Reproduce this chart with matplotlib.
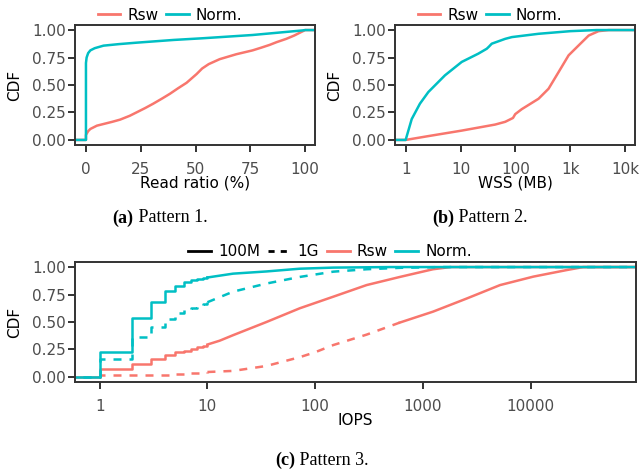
import numpy as np
import matplotlib
matplotlib.use("Agg")
from matplotlib import pyplot as plt
from matplotlib.lines import Line2D

RED = "#F8766D"
CYAN = "#00BFC4"
DARK = "#333333"
GREY = "#4D4D4D"

# (a) read ratio CDF
a_rsw_x = [-5, 0, 0, 1, 2, 5, 8, 12, 15.6, 20, 23, 27, 30.7, 35, 38.3, 42, 45.9, 50.5, 53, 56, 61,
           68.6, 76, 80, 83.8, 87, 91.4, 95, 99, 100, 105]
a_rsw_y = [0, 0, 0.045, 0.08, 0.10, 0.13, 0.145, 0.165, 0.185, 0.22, 0.25, 0.29, 0.33, 0.38, 0.42, 0.47, 0.52,
           0.60, 0.65, 0.69, 0.735, 0.78, 0.815, 0.84, 0.865, 0.89, 0.92, 0.95, 0.99, 1.0, 1.0]
a_norm_x = [-5, 0, 0, 0.3, 1, 2, 4, 8, 15, 23, 40, 53, 76, 87, 99, 100, 105]
a_norm_y = [0, 0, 0.70, 0.75, 0.79, 0.815, 0.835, 0.858, 0.872, 0.885, 0.91, 0.925, 0.955, 0.975, 0.997, 1.0, 1.0]

# (b) WSS CDF (MB)
b_rsw_x = [0.6, 1, 2.59, 10.5, 42.6, 65, 90, 99, 130, 263, 400, 610, 927, 1410, 2150, 3250, 5000, 15000]
b_rsw_y = [0, 0, 0.035, 0.085, 0.14, 0.165, 0.20, 0.235, 0.28, 0.375, 0.466, 0.618, 0.77, 0.86, 0.95, 0.99, 1.0, 1.0]
b_norm_x = [0.6, 1, 1.29, 1.82, 2.59, 5.2, 10.5, 21, 30, 33, 37, 65, 86, 263, 1000, 3000, 15000]
b_norm_y = [0, 0, 0.19, 0.33, 0.436, 0.588, 0.71, 0.785, 0.83, 0.85, 0.876, 0.92, 0.936, 0.966, 0.99, 1.0, 1.0]

# (c) IOPS CDF, integer steps up to 10 then dense
c_step_x = [0.5, 1, 2, 3, 4, 5, 6, 7, 8, 9, 10]
c_rsw_100m_step = [0, 0.076, 0.12, 0.16, 0.197, 0.225, 0.24, 0.255, 0.268, 0.28, 0.295]
c_norm_100m_step = [0, 0.227, 0.54, 0.68, 0.78, 0.83, 0.86, 0.88, 0.89, 0.90, 0.905]
c_rsw_1g_step = [0, 0.015, 0.018, 0.02, 0.022, 0.025, 0.028, 0.032, 0.036, 0.04, 0.045]
c_norm_1g_step = [0, 0.167, 0.364, 0.45, 0.53, 0.58, 0.61, 0.63, 0.65, 0.665, 0.68]

c_rsw_100m_x = [10, 13, 17.3, 35.3, 72, 147, 300, 611, 1240, 1800, 95000]
c_rsw_100m_y = [0.295, 0.33, 0.38, 0.50, 0.625, 0.73, 0.836, 0.91, 0.98, 1.0, 1.0]
c_norm_100m_x = [10, 17.3, 35.3, 72, 147, 500, 95000]
c_norm_100m_y = [0.905, 0.94, 0.96, 0.985, 0.995, 1.0, 1.0]
c_rsw_1g_x = [10, 17.3, 35.3, 72, 100, 147, 300, 611, 1240, 2570, 5200, 10600, 21700, 30800, 95000]
c_rsw_1g_y = [0.045, 0.055, 0.10, 0.18, 0.225, 0.29, 0.385, 0.495, 0.594, 0.715, 0.836, 0.913, 0.973, 1.0, 1.0]
c_norm_1g_x = [10, 17.3, 35.3, 72, 147, 300, 611, 1500, 95000]
c_norm_1g_y = [0.68, 0.776, 0.85, 0.91, 0.958, 0.98, 0.993, 1.0, 1.0]
solid_from = 611  # dense 1G tail renders as a solid line

cdf_ticks = [0, 0.25, 0.5, 0.75, 1.0]
cdf_labels = ["0.00", "0.25", "0.50", "0.75", "1.00"]

plt.rcParams['font.family'] = ['DejaVu Sans']
W, H = 639, 469
fig = plt.figure(figsize=(W / 100, H / 100), dpi=100)


def box(l, t, r, b):
    return [l / W, 1 - b / H, (r - l) / W, (b - t) / H]


def style(ax, wpx):
    for s in ax.spines.values():
        s.set_color(DARK)
        s.set_linewidth(1.4)
    ax.tick_params(direction='out', length=5, width=1.4, color=DARK,
                   labelcolor=GREY, labelsize=11)
    ax.tick_params(axis='x', pad=7)
    ax.tick_params(axis='y', pad=1.5)
    ax.tick_params(which='minor', length=0)
    ax.set_ylim(-0.046, 1.046)
    ax.set_yticks(cdf_ticks)
    ax.set_yticklabels(cdf_labels)
    ax.set_ylabel('CDF', fontsize=11)
    ax.yaxis.set_label_coords(-53 / wpx, 0.5)
    ax.xaxis.set_label_coords(0.5, -0.255)


lw = 1.8

ax_a = fig.add_axes(box(75, 25, 315, 145))
ax_a.plot(a_rsw_x, a_rsw_y, color=RED, lw=lw)
ax_a.plot(a_norm_x, a_norm_y, color=CYAN, lw=lw)
ax_a.set_xlim(-5, 104.5)
ax_a.set_xticks([0, 25, 50, 75, 100])
ax_a.set_xlabel('Read ratio (%)', fontsize=11)
style(ax_a, 240)

ax_b = fig.add_axes(box(395, 25, 635, 145))
ax_b.plot(b_rsw_x, b_rsw_y, color=RED, lw=lw)
ax_b.plot(b_norm_x, b_norm_y, color=CYAN, lw=lw)
ax_b.set_xscale('log')
ax_b.set_xlim(0.64, 15000)
ax_b.set_xticks([1, 10, 100, 1000, 10000])
ax_b.set_xticklabels(['1', '10', '100', '1k', '10k'])
ax_b.set_xlabel('WSS (MB)', fontsize=11)
style(ax_b, 240)

ax_c = fig.add_axes(box(75, 262, 636, 382))
dash = (3.2, 3.2)
for steps, xs, ys, col, ls in [
        (c_rsw_1g_step, c_rsw_1g_x, c_rsw_1g_y, RED, 'dashed'),
        (c_rsw_100m_step, c_rsw_100m_x, c_rsw_100m_y, RED, 'solid'),
        (c_norm_1g_step, c_norm_1g_x, c_norm_1g_y, CYAN, 'dashed'),
        (c_norm_100m_step, c_norm_100m_x, c_norm_100m_y, CYAN, 'solid')]:
    kw = dict(color=col, lw=lw)
    if ls == 'dashed':
        kw['dashes'] = dash
    ax_c.plot(c_step_x, steps, drawstyle='steps-post', **kw)
    xs = np.array(xs)
    ys = np.array(ys)
    if ls == 'dashed' and col == RED:
        m = xs <= solid_from
        ax_c.plot(xs[m], ys[m], **kw)
        tail = xs >= solid_from
        ax_c.plot(xs[tail], ys[tail], color=col, lw=lw)
    else:
        ax_c.plot(xs, ys, **kw)
ax_c.set_xscale('log')
ax_c.set_xlim(0.59, 95000)
ax_c.set_xticks([1, 10, 100, 1000, 10000])
ax_c.set_xticklabels(['1', '10', '100', '1000', '10000'])
ax_c.set_xlabel('IOPS', fontsize=11)
style(ax_c, 561)

# legends
leg_kw = dict(loc='center', frameon=False, fontsize=11, handlelength=1.5,
              handletextpad=0.45, columnspacing=0.5, borderpad=0, borderaxespad=0)
fig.legend([Line2D([], [], color=RED, lw=2), Line2D([], [], color=CYAN, lw=2)],
           ['Rsw', 'Norm.'], ncol=2, bbox_to_anchor=(170 / W, 1 - 15 / H), **leg_kw)
fig.legend([Line2D([], [], color=RED, lw=2), Line2D([], [], color=CYAN, lw=2)],
           ['Rsw', 'Norm.'], ncol=2, bbox_to_anchor=(490 / W, 1 - 15 / H), **leg_kw)
fig.legend([Line2D([], [], color='black', lw=2),
            Line2D([], [], color='black', lw=2, dashes=(2.2, 2.2)),
            Line2D([], [], color=RED, lw=2), Line2D([], [], color=CYAN, lw=2)],
           ['100M', '1G', 'Rsw', 'Norm.'], ncol=4, bbox_to_anchor=(330 / W, 1 - 252 / H), **leg_kw)

# captions: bold tag + plain text, centred
fig.canvas.draw()
rend = fig.canvas.get_renderer()


def caption(cx, cy, tag, rest):
    t1 = fig.text(0, cy / H, tag, family='Liberation Serif', weight='bold', fontsize=13, va='center')
    t2 = fig.text(0, cy / H, ' ' + rest, family='Liberation Serif', fontsize=13, va='center')
    w1 = t1.get_window_extent(rend).width
    w2 = t2.get_window_extent(rend).width
    x0 = cx - (w1 + w2) / 2
    t1.set_x(x0 / W)
    t2.set_x((x0 + w1) / W)


caption(160, H - 218, '(a)', 'Pattern 1.')
caption(480, H - 218, '(b)', 'Pattern 2.')
caption(322, H - 460, '(c)', 'Pattern 3.')

fig.savefig('out.png', dpi=100)
